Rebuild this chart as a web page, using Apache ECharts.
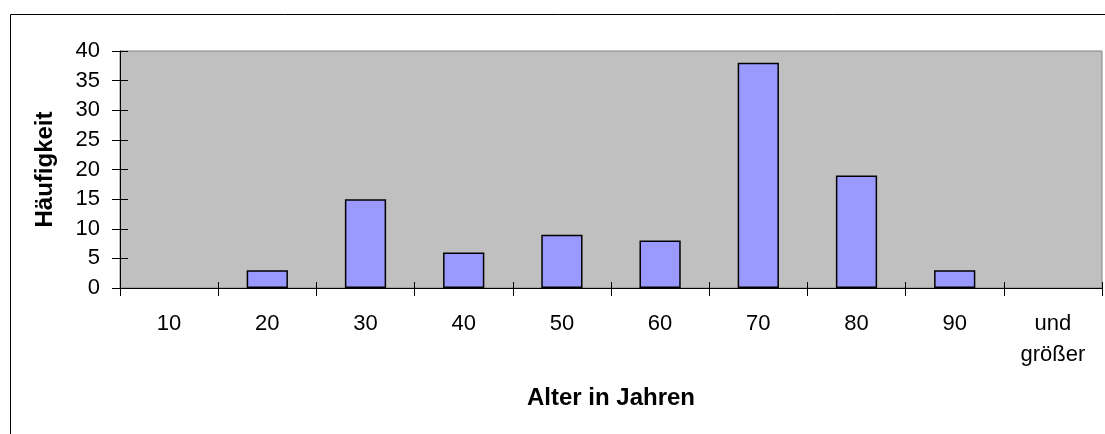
<!DOCTYPE html>
<html>
<head>
<meta charset="utf-8">
<script src="https://cdn.jsdelivr.net/npm/echarts@6/dist/echarts.min.js"></script>
<style>
html,body{margin:0;padding:0;background:#fff;}
#c{width:1105px;height:434px;}
</style>
</head>
<body>
<div id="c"></div>
<script>
const categories = ['10','20','30','40','50','60','70','80','90','und\ngrößer'];
const frequencies = [0,3,15,6,9,8,38,19,3,0];
const yTicks = {min:0, max:40, interval:5};
const xTitle = 'Alter in Jahren';
const yTitle = 'Häufigkeit';

const chart = echarts.init(document.getElementById('c'), null, {renderer:'canvas'});
const font = 'Liberation Sans, Arial, sans-serif';
chart.setOption({
  animation:false,
  backgroundColor:'#ffffff',
  graphic:[{type:'rect', left:8, top:12, shape:{width:1200, height:600}, style:{fill:'none', stroke:'#000', lineWidth:1}, z:-1}],
  grid:{left:120, right:3, top:51, bottom:146, show:true, backgroundColor:'#C0C0C0', borderColor:'#808080', borderWidth:1},
  xAxis:[{
    type:'category', data:categories, boundaryGap:true,
    name:xTitle, nameLocation:'middle', nameGap:98,
    nameTextStyle:{fontFamily:font, fontSize:24, fontWeight:'bold', color:'#000'},
    axisLine:{lineStyle:{color:'#000', width:1}},
    axisTick:{show:true, length:8, lineStyle:{color:'#000'}},
    axisLabel:{fontFamily:font, fontSize:22, color:'#000', margin:20, lineHeight:31, interval:0}
  },{
    type:'category', data:categories, boundaryGap:true, position:'bottom',
    axisLine:{show:false},
    axisTick:{show:true, inside:true, length:6, lineStyle:{color:'#000'}},
    axisLabel:{show:false}
  }],
  yAxis:[{
    type:'value', min:yTicks.min, max:yTicks.max, interval:yTicks.interval,
    name:yTitle, nameLocation:'middle', nameGap:63, nameRotate:90,
    nameTextStyle:{fontFamily:font, fontSize:24, fontWeight:'bold', color:'#000'},
    axisLine:{show:true, lineStyle:{color:'#000', width:1}},
    axisTick:{show:true, length:8, lineStyle:{color:'#000'}},
    splitLine:{show:false},
    axisLabel:{fontFamily:font, fontSize:22, color:'#000', margin:20}
  },{
    type:'value', min:yTicks.min, max:yTicks.max, interval:yTicks.interval, position:'left',
    axisLine:{show:false},
    axisTick:{show:true, inside:true, length:8, lineStyle:{color:'#000'}},
    splitLine:{show:false},
    axisLabel:{show:false}
  }],
  series:[{
    type:'bar', barWidth:'42%',
    data:frequencies.map(v => v === 0 ? {value:v, itemStyle:{borderWidth:0}} : v),
    itemStyle:{color:'#9999FF', borderColor:'#000', borderWidth:1.5}
  }]
});
</script>
</body>
</html>
